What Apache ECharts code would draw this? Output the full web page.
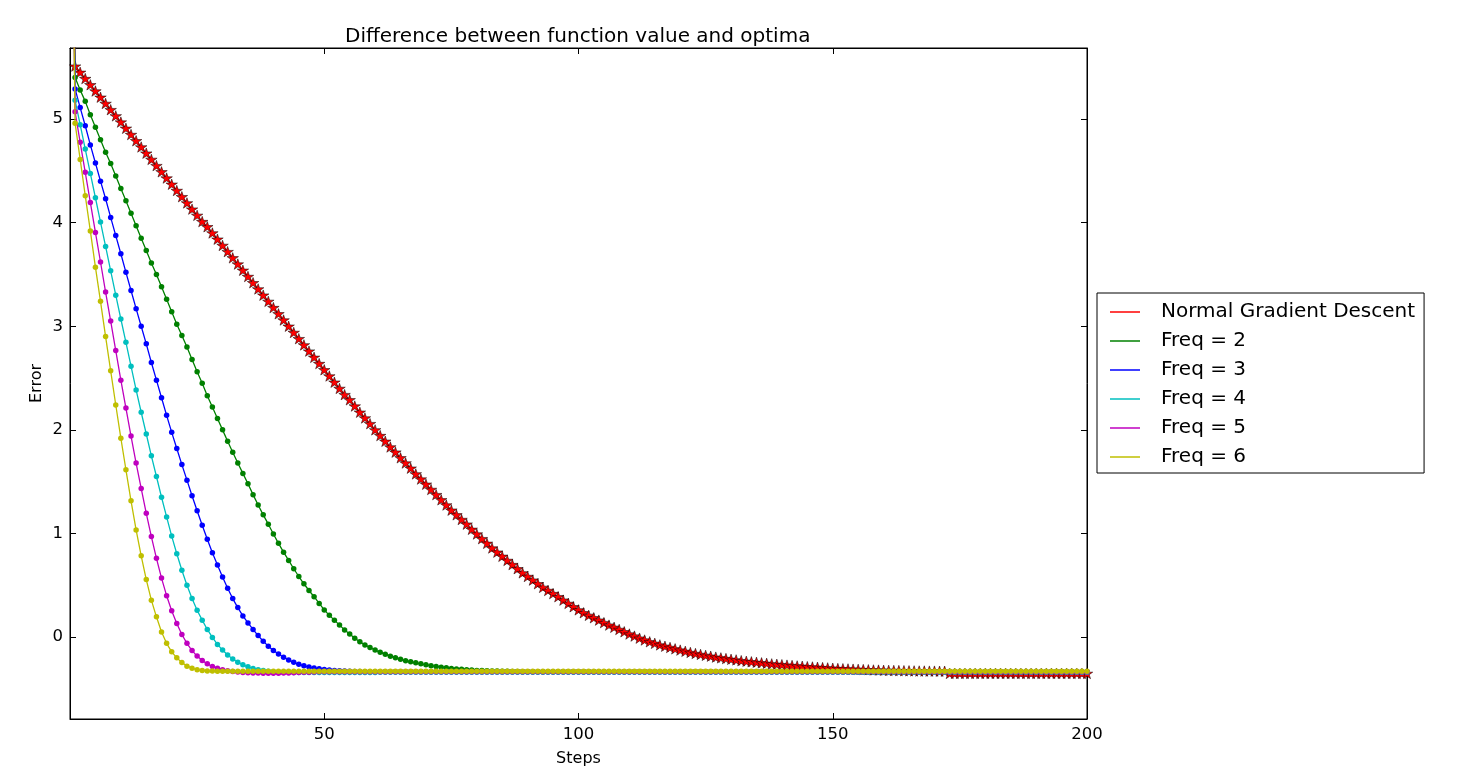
<!DOCTYPE html>
<html>
<head>
<meta charset="utf-8">
<script src="https://cdn.jsdelivr.net/npm/echarts@6/dist/echarts.min.js"></script>
<style>
html,body{margin:0;padding:0;background:#fff;}
#chart{width:1465px;height:772px;}
</style>
</head>
<body>
<div id="chart"></div>
<script>
// ---------------- data ----------------
const steps = Array.from({length: 201}, (_, i) => i);
const xTicks = [50, 100, 150, 200];
const yTicks = [0, 1, 2, 3, 4, 5];
const seriesNames = ['Normal Gradient Descent', 'Freq = 2', 'Freq = 3', 'Freq = 4', 'Freq = 5', 'Freq = 6'];

const normalGD = [9,
 5.51,5.45,5.39,5.33,5.27,5.21,5.15,5.09,5.03,4.97,
 4.91,4.85,4.79,4.73,4.67,4.61,4.55,4.49,4.43,4.37,
 4.31,4.25,4.19,4.13,4.07,4.01,3.96,3.90,3.84,3.78,
 3.72,3.66,3.60,3.54,3.48,3.42,3.36,3.30,3.24,3.18,
 3.12,3.06,3.00,2.94,2.88,2.82,2.76,2.70,2.64,2.58,
 2.52,2.46,2.40,2.34,2.29,2.23,2.17,2.115,2.06,2.00,
 1.945,1.89,1.835,1.785,1.73,1.68,1.63,1.575,1.525,1.475,
 1.425,1.375,1.325,1.275,1.225,1.18,1.135,1.09,1.04,0.995,
 0.95,0.905,0.86,0.82,0.78,0.74,0.70,0.66,0.62,0.585,
 0.55,0.515,0.48,0.45,0.42,0.39,0.357,0.325,0.293,0.263,
 0.235,0.21,0.187,0.164,0.14,0.116,0.095,0.074,0.052,0.03,
 0.01,-0.01,-0.028,-0.045,-0.06,-0.075,-0.088,-0.1,-0.113,-0.125,
 -0.137,-0.148,-0.158,-0.167,-0.176,-0.184,-0.193,-0.2,-0.207,-0.214,
 -0.22,-0.227,-0.233,-0.238,-0.243,-0.248,-0.253,-0.258,-0.262,-0.266,
 -0.27,-0.274,-0.278,-0.281,-0.285,-0.288,-0.291,-0.294,-0.297,-0.3,
 -0.303,-0.305,-0.307,-0.309,-0.311,-0.313,-0.315,-0.317,-0.318,-0.32,
 -0.321,-0.322,-0.323,-0.324,-0.325,-0.326,-0.327,-0.327,-0.328,-0.328,
 -0.329,-0.329,-0.35,-0.35,-0.35,-0.35,-0.35,-0.35,-0.35,-0.35,
 -0.35,-0.35,-0.35,-0.35,-0.35,-0.35,-0.35,-0.35,-0.35,-0.35,
 -0.35,-0.35,-0.35,-0.35,-0.35,-0.35,-0.35,-0.35,-0.35,-0.35];

const freq2 = [9,
 5.40,5.28,5.17,5.04,4.92,4.80,4.68,4.57,4.45,4.33,
 4.21,4.09,3.97,3.85,3.73,3.61,3.50,3.38,3.26,3.14,
 3.02,2.91,2.80,2.68,2.56,2.45,2.33,2.22,2.11,2.00,
 1.89,1.785,1.68,1.58,1.48,1.375,1.275,1.18,1.09,0.995,
 0.905,0.82,0.74,0.66,0.585,0.515,0.45,0.39,0.325,0.263,
 0.21,0.164,0.116,0.07,0.03,-0.01,-0.045,-0.075,-0.10,-0.125,
 -0.147,-0.166,-0.184,-0.2,-0.214,-0.227,-0.238,-0.248,-0.258,-0.267,
 -0.275,-0.283,-0.29,-0.296,-0.302,-0.307,-0.311,-0.315,-0.318,-0.321,
 -0.323,-0.325,-0.327,-0.328,-0.329,-0.33,-0.331,-0.332,-0.333,-0.333,
 -0.334,-0.334,-0.334,-0.335,-0.335,-0.335,-0.335,-0.335,-0.335,-0.335,
 -0.335,-0.335,-0.335,-0.335,-0.335,-0.335,-0.335,-0.335,-0.335,-0.335,
 -0.335,-0.335,-0.335,-0.335,-0.335,-0.335,-0.335,-0.335,-0.335,-0.335,
 -0.335,-0.335,-0.335,-0.335,-0.335,-0.335,-0.335,-0.335,-0.335,-0.335,
 -0.335,-0.335,-0.335,-0.335,-0.335,-0.335,-0.335,-0.335,-0.335,-0.335,
 -0.335,-0.335,-0.335,-0.335,-0.335,-0.335,-0.335,-0.335,-0.335,-0.335,
 -0.335,-0.335,-0.335,-0.335,-0.335,-0.335,-0.335,-0.335,-0.335,-0.335,
 -0.335,-0.335,-0.335,-0.335,-0.335,-0.335,-0.335,-0.335,-0.335,-0.335,
 -0.335,-0.335,-0.335,-0.335,-0.335,-0.335,-0.335,-0.335,-0.335,-0.335,
 -0.335,-0.335,-0.335,-0.335,-0.335,-0.335,-0.335,-0.335,-0.335,-0.335,
 -0.335,-0.335,-0.335,-0.335,-0.335,-0.335,-0.335,-0.335,-0.335,-0.335];

const freq3 = [9,
 5.29,5.11,4.935,4.75,4.575,4.40,4.23,4.05,3.875,3.70,
 3.52,3.345,3.17,3.00,2.83,2.65,2.48,2.31,2.14,1.976,
 1.82,1.665,1.515,1.365,1.22,1.08,0.945,0.815,0.695,0.58,
 0.472,0.372,0.285,0.205,0.137,0.074,0.015,-0.04,-0.087,-0.128,
 -0.163,-0.194,-0.22,-0.243,-0.262,-0.277,-0.289,-0.299,-0.306,-0.312,
 -0.317,-0.321,-0.324,-0.327,-0.329,-0.331,-0.332,-0.333,-0.334,-0.334,
 -0.335,-0.335,-0.335,-0.335,-0.335,-0.335,-0.335,-0.335,-0.335,-0.335,
 -0.335,-0.335,-0.335,-0.335,-0.335,-0.335,-0.335,-0.335,-0.335,-0.335,
 -0.335,-0.335,-0.335,-0.335,-0.335,-0.335,-0.335,-0.335,-0.335,-0.335,
 -0.335,-0.335,-0.335,-0.335,-0.335,-0.335,-0.335,-0.335,-0.335,-0.335,
 -0.335,-0.335,-0.335,-0.335,-0.335,-0.335,-0.335,-0.335,-0.335,-0.335,
 -0.335,-0.335,-0.335,-0.335,-0.335,-0.335,-0.335,-0.335,-0.335,-0.335,
 -0.335,-0.335,-0.335,-0.335,-0.335,-0.335,-0.335,-0.335,-0.335,-0.335,
 -0.335,-0.335,-0.335,-0.335,-0.335,-0.335,-0.335,-0.335,-0.335,-0.335,
 -0.335,-0.335,-0.335,-0.335,-0.335,-0.335,-0.335,-0.335,-0.335,-0.335,
 -0.335,-0.335,-0.335,-0.335,-0.335,-0.335,-0.335,-0.335,-0.335,-0.335,
 -0.335,-0.335,-0.335,-0.335,-0.335,-0.335,-0.335,-0.335,-0.335,-0.335,
 -0.335,-0.335,-0.335,-0.335,-0.335,-0.335,-0.335,-0.335,-0.335,-0.335,
 -0.335,-0.335,-0.335,-0.335,-0.335,-0.335,-0.335,-0.335,-0.335,-0.335,
 -0.335,-0.335,-0.335,-0.335,-0.335,-0.335,-0.335,-0.335,-0.335,-0.335];

const freq4 = [9,
 5.18,4.945,4.71,4.475,4.24,4.005,3.77,3.535,3.30,3.07,
 2.845,2.615,2.385,2.17,1.96,1.75,1.55,1.35,1.16,0.975,
 0.805,0.645,0.50,0.373,0.26,0.164,0.074,-0.003,-0.07,-0.125,
 -0.172,-0.21,-0.242,-0.267,-0.287,-0.302,-0.314,-0.323,-0.329,-0.334,
 -0.337,-0.339,-0.34,-0.341,-0.342,-0.342,-0.342,-0.342,-0.342,-0.342,
 -0.341,-0.341,-0.341,-0.341,-0.341,-0.341,-0.341,-0.341,-0.341,-0.341,
 -0.34,-0.34,-0.34,-0.34,-0.34,-0.34,-0.34,-0.34,-0.34,-0.34,
 -0.34,-0.34,-0.34,-0.34,-0.34,-0.34,-0.34,-0.34,-0.34,-0.34,
 -0.34,-0.34,-0.34,-0.34,-0.34,-0.34,-0.34,-0.34,-0.34,-0.34,
 -0.34,-0.34,-0.34,-0.34,-0.34,-0.34,-0.34,-0.34,-0.34,-0.34,
 -0.34,-0.34,-0.34,-0.34,-0.34,-0.34,-0.34,-0.34,-0.34,-0.34,
 -0.34,-0.34,-0.34,-0.34,-0.34,-0.34,-0.34,-0.34,-0.34,-0.34,
 -0.34,-0.34,-0.34,-0.34,-0.34,-0.34,-0.34,-0.34,-0.34,-0.34,
 -0.34,-0.34,-0.34,-0.34,-0.34,-0.34,-0.34,-0.34,-0.34,-0.34,
 -0.34,-0.34,-0.34,-0.34,-0.34,-0.34,-0.34,-0.34,-0.34,-0.34,
 -0.34,-0.34,-0.34,-0.34,-0.34,-0.34,-0.34,-0.34,-0.34,-0.34,
 -0.34,-0.34,-0.34,-0.34,-0.34,-0.34,-0.34,-0.34,-0.34,-0.34,
 -0.34,-0.34,-0.34,-0.34,-0.34,-0.34,-0.34,-0.34,-0.34,-0.34,
 -0.34,-0.34,-0.34,-0.34,-0.34,-0.34,-0.34,-0.34,-0.34,-0.34,
 -0.34,-0.34,-0.34,-0.34,-0.34,-0.34,-0.34,-0.34,-0.34,-0.34];

const freq5 = [9,
 5.07,4.775,4.485,4.195,3.905,3.62,3.33,3.05,2.765,2.48,
 2.21,1.94,1.68,1.435,1.195,0.97,0.76,0.57,0.40,0.254,
 0.132,0.025,-0.06,-0.13,-0.183,-0.226,-0.258,-0.283,-0.30,-0.315,
 -0.325,-0.332,-0.337,-0.341,-0.344,-0.346,-0.347,-0.348,-0.348,-0.348,
 -0.348,-0.347,-0.346,-0.344,-0.342,-0.34,-0.338,-0.336,-0.335,-0.335,
 -0.335,-0.335,-0.335,-0.335,-0.335,-0.335,-0.335,-0.335,-0.335,-0.335,
 -0.335,-0.335,-0.335,-0.335,-0.335,-0.335,-0.335,-0.335,-0.335,-0.335,
 -0.335,-0.335,-0.335,-0.335,-0.335,-0.335,-0.335,-0.335,-0.335,-0.335,
 -0.335,-0.335,-0.335,-0.335,-0.335,-0.335,-0.335,-0.335,-0.335,-0.335,
 -0.335,-0.335,-0.335,-0.335,-0.335,-0.335,-0.335,-0.335,-0.335,-0.335,
 -0.335,-0.335,-0.335,-0.335,-0.335,-0.335,-0.335,-0.335,-0.335,-0.335,
 -0.335,-0.335,-0.335,-0.335,-0.335,-0.335,-0.335,-0.335,-0.335,-0.335,
 -0.335,-0.335,-0.335,-0.335,-0.335,-0.335,-0.335,-0.335,-0.335,-0.335,
 -0.335,-0.335,-0.335,-0.335,-0.335,-0.335,-0.335,-0.335,-0.335,-0.335,
 -0.335,-0.335,-0.335,-0.335,-0.335,-0.335,-0.335,-0.335,-0.335,-0.335,
 -0.335,-0.335,-0.335,-0.335,-0.335,-0.335,-0.335,-0.335,-0.335,-0.335,
 -0.335,-0.335,-0.335,-0.335,-0.335,-0.335,-0.335,-0.335,-0.335,-0.335,
 -0.335,-0.335,-0.335,-0.335,-0.335,-0.335,-0.335,-0.335,-0.335,-0.335,
 -0.335,-0.335,-0.335,-0.335,-0.335,-0.335,-0.335,-0.335,-0.335,-0.335,
 -0.335,-0.335,-0.335,-0.335,-0.335,-0.335,-0.335,-0.335,-0.335,-0.335];

const freq6 = [9,
 4.96,4.61,4.26,3.92,3.57,3.24,2.90,2.57,2.24,1.92,
 1.615,1.315,1.035,0.785,0.555,0.357,0.196,0.05,-0.06,-0.142,
 -0.20,-0.245,-0.28,-0.30,-0.315,-0.322,-0.326,-0.328,-0.33,-0.33,
 -0.33,-0.33,-0.33,-0.33,-0.33,-0.33,-0.33,-0.33,-0.33,-0.33,
 -0.33,-0.33,-0.33,-0.33,-0.33,-0.33,-0.33,-0.33,-0.33,-0.33,
 -0.33,-0.33,-0.33,-0.33,-0.33,-0.33,-0.33,-0.33,-0.33,-0.33,
 -0.33,-0.33,-0.33,-0.33,-0.33,-0.33,-0.33,-0.33,-0.33,-0.33,
 -0.33,-0.33,-0.33,-0.33,-0.33,-0.33,-0.33,-0.33,-0.33,-0.33,
 -0.33,-0.33,-0.33,-0.33,-0.33,-0.33,-0.33,-0.33,-0.33,-0.33,
 -0.33,-0.33,-0.33,-0.33,-0.33,-0.33,-0.33,-0.33,-0.33,-0.33,
 -0.33,-0.33,-0.33,-0.33,-0.33,-0.33,-0.33,-0.33,-0.33,-0.33,
 -0.33,-0.33,-0.33,-0.33,-0.33,-0.33,-0.33,-0.33,-0.33,-0.33,
 -0.33,-0.33,-0.33,-0.33,-0.33,-0.33,-0.33,-0.33,-0.33,-0.33,
 -0.33,-0.33,-0.33,-0.33,-0.33,-0.33,-0.33,-0.33,-0.33,-0.33,
 -0.33,-0.33,-0.33,-0.33,-0.33,-0.33,-0.33,-0.33,-0.33,-0.33,
 -0.33,-0.33,-0.33,-0.33,-0.33,-0.33,-0.33,-0.33,-0.33,-0.33,
 -0.33,-0.33,-0.33,-0.33,-0.33,-0.33,-0.33,-0.33,-0.33,-0.33,
 -0.33,-0.33,-0.33,-0.33,-0.33,-0.33,-0.33,-0.33,-0.33,-0.33,
 -0.33,-0.33,-0.33,-0.33,-0.33,-0.33,-0.33,-0.33,-0.33,-0.33,
 -0.33,-0.33,-0.33,-0.33,-0.33,-0.33,-0.33,-0.33,-0.33,-0.33];

const allValues = [normalGD, freq2, freq3, freq4, freq5, freq6];
const colors = ['#ff0000', '#008000', '#0000ff', '#00bfbf', '#bf00bf', '#bfbf00'];

// ---------------- chart ----------------
const FONT = 'DejaVu Sans';
const STAR = 'path://M100,0 L122.45,69.1 L195.1,69.1 L136.3,111.8 L158.8,180.9 L100,138.2 L41.2,180.9 L63.7,111.8 L4.9,69.1 L77.55,69.1 Z';

const chart = echarts.init(document.getElementById('chart'), null, {renderer: 'canvas'});

const series = allValues.map((vals, si) => {
  const isStar = si === 0;
  return {
    name: seriesNames[si],
    type: 'line',
    xAxisIndex: 0,
    yAxisIndex: 0,
    data: steps.map((s, i) => [s, vals[i]]),
    clip: true,
    symbol: isStar ? STAR : 'circle',
    symbolSize: isStar ? [11.5, 11] : 5.5,
    symbolKeepAspect: true,
    showSymbol: true,
    lineStyle: {color: colors[si], width: 1.3},
    itemStyle: isStar
      ? {color: colors[si], borderColor: '#000', borderWidth: 0.5}
      : {color: colors[si], borderWidth: 0},
    emphasis: {disabled: true},
    silent: true,
    z: 2 + si
  };
});

const tickStyle = {color: '#000', width: 1};
const labelStyle = {color: '#000', fontSize: 16.5, fontFamily: FONT};

const option = {
  backgroundColor: '#fff',
  animation: false,
  title: {
    text: 'Difference between function value and optima',
    left: 345,
    top: 27,
    padding: 0,
    textStyle: {fontFamily: FONT, fontSize: 20, fontWeight: 'normal', color: '#000'}
  },
  legend: {
    data: seriesNames,
    orient: 'vertical',
    left: 1097,
    top: 293,
    padding: [9, 9, 6, 13],
    itemGap: 9,
    itemWidth: 30,
    itemHeight: 1.5,
    icon: 'rect',
    borderColor: '#000',
    borderWidth: 1,
    borderRadius: 0,
    backgroundColor: '#fff',
    itemStyle: {borderWidth: 0},
    textStyle: {fontFamily: FONT, fontSize: 20, color: '#000', padding: [0, 0, 0, 16]},
    selectedMode: false
  },
  grid: {
    left: 70, right: 378, top: 48, bottom: 53,
    show: true, borderColor: '#000', borderWidth: 1, backgroundColor: 'transparent',
    containLabel: false
  },
  xAxis: [
    {
      type: 'value', min: 0, max: 200, position: 'bottom',
      axisLine: {show: true, onZero: false, lineStyle: tickStyle},
      axisTick: {show: true, inside: true, length: 6, lineStyle: tickStyle, customValues: xTicks},
      axisLabel: {show: true, margin: 7, customValues: xTicks, ...labelStyle},
      splitLine: {show: false},
      name: 'Steps', nameLocation: 'middle', nameGap: 32,
      nameTextStyle: {color: '#000', fontSize: 16, fontFamily: FONT}
    },
    {
      type: 'value', min: 0, max: 200, position: 'top',
      axisLine: {show: true, onZero: false, lineStyle: tickStyle},
      axisTick: {show: true, inside: true, length: 6, lineStyle: tickStyle, customValues: xTicks},
      axisLabel: {show: false},
      splitLine: {show: false}
    }
  ],
  yAxis: [
    {
      type: 'value', min: -0.79, max: 5.685, position: 'left',
      axisLine: {show: true, onZero: false, lineStyle: tickStyle},
      axisTick: {show: true, inside: true, length: 6, lineStyle: tickStyle, customValues: yTicks},
      axisLabel: {show: true, margin: 7, customValues: yTicks, ...labelStyle},
      splitLine: {show: false},
      name: 'Error', nameLocation: 'middle', nameGap: 25, nameRotate: 90,
      nameMoveOverlap: false,
      nameTextStyle: {color: '#000', fontSize: 16, fontFamily: FONT}
    },
    {
      type: 'value', min: -0.79, max: 5.685, position: 'right',
      axisLine: {show: true, onZero: false, lineStyle: tickStyle},
      axisTick: {show: true, inside: true, length: 6, lineStyle: tickStyle, customValues: yTicks},
      axisLabel: {show: false},
      splitLine: {show: false}
    }
  ],
  series: series
};

chart.setOption(option);
</script>
</body>
</html>
